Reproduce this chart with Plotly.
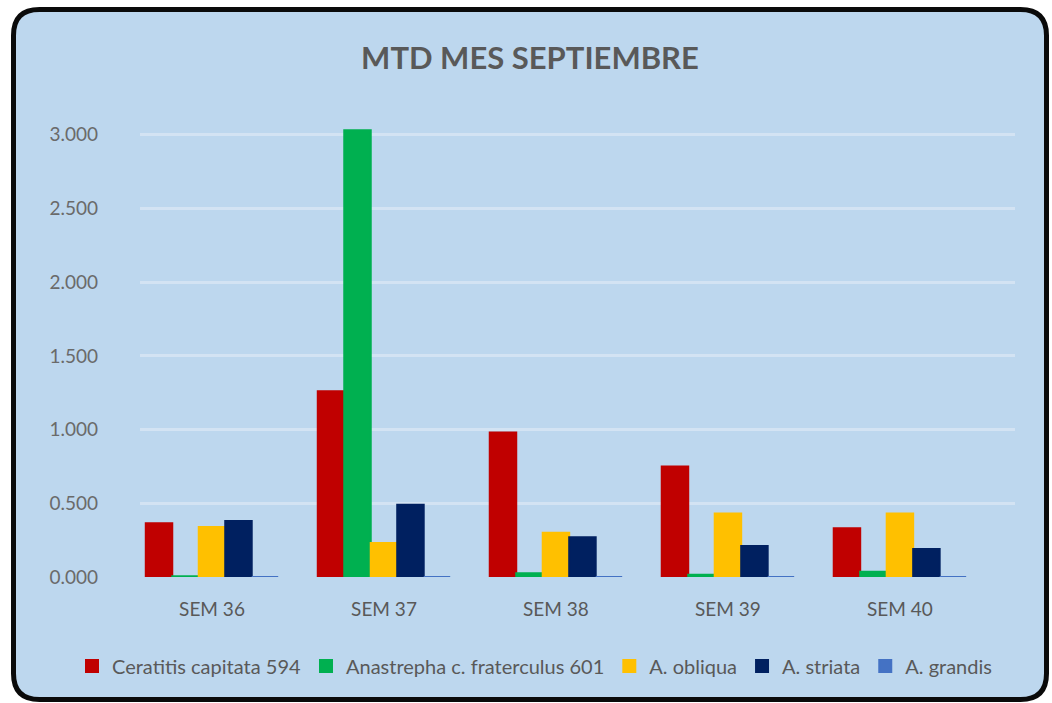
import plotly.graph_objects as go

categories = ["SEM 36", "SEM 37", "SEM 38", "SEM 39", "SEM 40"]
ceratitis = [0.365, 1.26, 0.98, 0.75, 0.33]
anastrepha_fr = [0.005, 3.03, 0.025, 0.015, 0.035]
obliqua = [0.34, 0.23, 0.30, 0.43, 0.43]
striata = [0.38, 0.49, 0.27, 0.21, 0.19]
grandis = [0.0, 0.0, 0.0, 0.0, 0.0]

series = [
    ("Ceratitis capitata 594", ceratitis, "#C00000"),
    ("Anastrepha c. fraterculus 601", anastrepha_fr, "#00B050"),
    ("A. obliqua", obliqua, "#FFC000"),
    ("A. striata", striata, "#002060"),
    ("A. grandis", grandis, "#4472C4"),
]

W, H = 1052, 703
L, R, T, B = 140, 1015, 120, 577  # plot area in pixels
pw, ph = R - L, B - T
FONT = "Lato, 'Open Sans', sans-serif"

fig = go.Figure()
for name, vals, col in series:
    fig.add_trace(go.Bar(
        name=name, x=categories, y=vals,
        marker=dict(color=col, line=dict(color=col, width=2)),
    ))

def P(x, y):
    return f"{(x - L) / pw:.5f},{(B - y) / ph:.5f}"

# rounded frame
x0, y0, x1, y1, r = 13.5, 9.5, 1046.5, 699.5, 26
path = (f"M {P(x0 + r, y0)} L {P(x1 - r, y0)} Q {P(x1, y0)} {P(x1, y0 + r)} "
        f"L {P(x1, y1 - r)} Q {P(x1, y1)} {P(x1 - r, y1)} "
        f"L {P(x0 + r, y1)} Q {P(x0, y1)} {P(x0, y1 - r)} "
        f"L {P(x0, y0 + r)} Q {P(x0, y0)} {P(x0 + r, y0)} Z")

fig.update_layout(
    width=W, height=H,
    margin=dict(l=L, r=W - R, t=T, b=H - B, pad=0, autoexpand=False),
    paper_bgcolor="white",
    plot_bgcolor="rgba(0,0,0,0)",
    font=dict(family=FONT, color="#595959", size=17),
    barmode="group",
    bargap=0.23,
    bargroupgap=0.0,
    showlegend=True,
    title=dict(text="<b>MTD MES SEPTIEMBRE</b>", x=530 / W, xanchor="center",
               y=1 - 58 / H, yanchor="middle",
               font=dict(size=31, color="#595959", family=FONT)),
    legend=dict(orientation="h", x=(72 - L) / pw, xanchor="left",
                y=(B - 666) / ph, yanchor="middle",
                font=dict(size=20, color="#595959", family=FONT),
                bgcolor="rgba(0,0,0,0)", itemwidth=30, traceorder="normal"),
    shapes=[dict(type="path", xref="paper", yref="paper", path=path,
                 fillcolor="#BDD7EE", line=dict(color="#0a0a0a", width=5),
                 layer="below")],
)
fig.update_yaxes(range=[0, 3.1], dtick=0.5, tick0=0, tickformat=".3f",
                 showgrid=True, gridcolor="#D3E3F3", gridwidth=3,
                 zeroline=False, showline=False, ticks="", automargin=False,
                 ticklabelstandoff=41, tickfont=dict(size=19, color="#6a6a6a", family=FONT))
fig.update_xaxes(range=[-0.4186, 4.669], showgrid=False, showline=False, ticks="",
                 automargin=False,
                 ticklabelstandoff=19, tickfont=dict(size=19, color="#595959", family=FONT))

fig.write_html("out.html", config={"displayModeBar": False},
               post_script="document.body.style.margin='0';document.body.style.overflow='hidden';")
